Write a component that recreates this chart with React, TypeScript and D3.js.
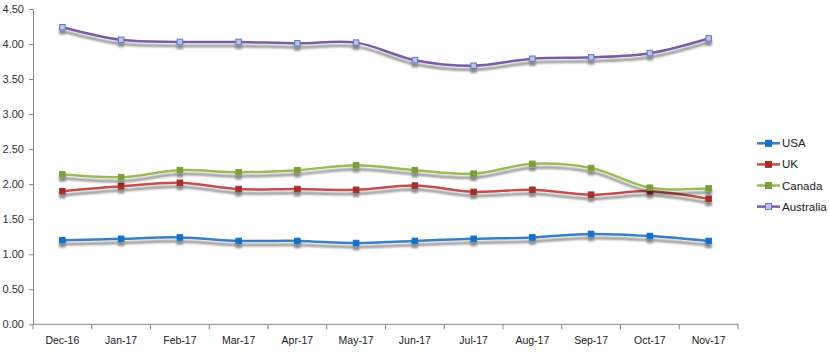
import React, { useEffect, useRef } from "react";
import * as d3 from "d3";

const months = ["Dec-16", "Jan-17", "Feb-17", "Mar-17", "Apr-17", "May-17", "Jun-17", "Jul-17", "Aug-17", "Sep-17", "Oct-17", "Nov-17"];
const usa = [1.2, 1.22, 1.24, 1.19, 1.19, 1.16, 1.19, 1.22, 1.24, 1.29, 1.26, 1.19];
const uk = [1.9, 1.97, 2.02, 1.93, 1.93, 1.92, 1.98, 1.89, 1.92, 1.85, 1.9, 1.79];
const canada = [2.14, 2.1, 2.2, 2.17, 2.2, 2.27, 2.2, 2.15, 2.29, 2.23, 1.95, 1.94];
const australia = [4.24, 4.06, 4.03, 4.03, 4.01, 4.02, 3.77, 3.69, 3.79, 3.81, 3.87, 4.08];
const yTicks = [0, 0.5, 1, 1.5, 2, 2.5, 3, 3.5, 4, 4.5];

const series = [
  { name: "USA", values: usa, line: "#3C7DC4", fill: "#1470C8", border: "#1470C8" },
  { name: "UK", values: uk, line: "#C0504D", fill: "#A3302D", border: "#A3302D" },
  { name: "Canada", values: canada, line: "#9BBB59", fill: "#7A9E3A", border: "#7A9E3A" },
  { name: "Australia", values: australia, line: "#7B5BA6", fill: "#CDB8E8", border: "#4F81BD" },
];

const width = 830;
const height = 352;
const margin = { top: 9, right: 92, bottom: 28, left: 33 };

const App = () => {
  const svgRef = useRef<SVGSVGElement>(null);

  useEffect(() => {
    const svg = d3.select(svgRef.current);
    svg.selectAll("*").remove();

    const defs = svg.append("defs");
    const f = defs.append("filter").attr("id", "shadow")
      .attr("x", "-10%").attr("y", "-50%").attr("width", "120%").attr("height", "200%");
    f.append("feDropShadow")
      .attr("dx", 0).attr("dy", 4).attr("stdDeviation", 1.3)
      .attr("flood-color", "#000").attr("flood-opacity", 0.45);

    const x = d3.scaleBand().domain(months).range([margin.left, 738]);
    const y = d3.scaleLinear().domain([0, 4.5]).range([324.3, margin.top]);

    // Y axis
    const yAxis = svg.append("g")
      .attr("transform", `translate(${margin.left},0)`)
      .call(d3.axisLeft(y).tickValues(yTicks).tickSize(4).tickSizeOuter(0).tickFormat(d3.format(".2f")));
    yAxis.select(".domain").attr("stroke", "#868686");
    yAxis.selectAll(".tick line").attr("stroke", "#868686");
    yAxis.selectAll("text")
      .attr("x", -9)
      .style("font-family", "'Liberation Sans', Arial, sans-serif")
      .style("font-size", "11px")
      .attr("fill", "#333");

    // X axis
    const xAxis = svg.append("g").attr("transform", `translate(0,${y(0)})`);
    xAxis.append("line")
      .attr("x1", margin.left).attr("x2", 738)
      .attr("stroke", "#868686");
    const bounds = [...months.map(m => x(m)!), 738];
    xAxis.selectAll(".xt").data(bounds).enter().append("line")
      .attr("x1", d => d).attr("x2", d => d).attr("y1", 0).attr("y2", 5)
      .attr("stroke", "#868686");
    xAxis.selectAll(".xl").data(months).enter().append("text")
      .attr("x", d => x(d)! + x.bandwidth() / 2)
      .attr("y", 20)
      .attr("text-anchor", "middle")
      .style("font-family", "'Liberation Sans', Arial, sans-serif")
      .style("font-size", "10.5px")
      .attr("fill", "#222")
      .text(d => d);

    const line = d3.line<number>()
      .x((_, i) => x(months[i])! + x.bandwidth() / 2)
      .y(d => y(d))
      .curve(d3.curveCatmullRom.alpha(0.5));

    series.forEach(s => {
      const g = svg.append("g").attr("filter", "url(#shadow)");
      g.append("path")
        .attr("d", line(s.values))
        .attr("fill", "none")
        .attr("stroke", s.line)
        .attr("stroke-width", 2.5);
      g.selectAll("rect").data(s.values).enter().append("rect")
        .attr("x", (_, i) => x(months[i])! + x.bandwidth() / 2 - 2.75)
        .attr("y", d => y(d) - 2.75)
        .attr("width", 5.5).attr("height", 5.5)
        .attr("fill", s.fill)
        .attr("stroke", s.border)
        .attr("stroke-width", 1);
    });

    // Legend
    const legend = svg.append("g").attr("transform", "translate(757,143.3)");
    series.forEach((s, i) => {
      const row = legend.append("g").attr("transform", `translate(0,${i * 21.1})`);
      row.append("line").attr("x1", 0).attr("x2", 23)
        .attr("stroke", s.line).attr("stroke-width", 2.5);
      row.append("rect").attr("x", 8.5).attr("y", -3).attr("width", 6).attr("height", 6)
        .attr("fill", s.fill).attr("stroke", s.border).attr("stroke-width", 1);
      row.append("text")
        .attr("x", 25).attr("y", 4)
        .style("font-family", "'Liberation Sans', Arial, sans-serif")
        .style("font-size", "11.5px")
        .attr("fill", "#222")
        .text(s.name);
    });
  }, []);

  return (
    <svg
      ref={svgRef}
      width={width}
      height={height}
      style={{ position: "absolute", left: 0, top: 0, background: "#fff" }}
    />
  );
};

export default App;
